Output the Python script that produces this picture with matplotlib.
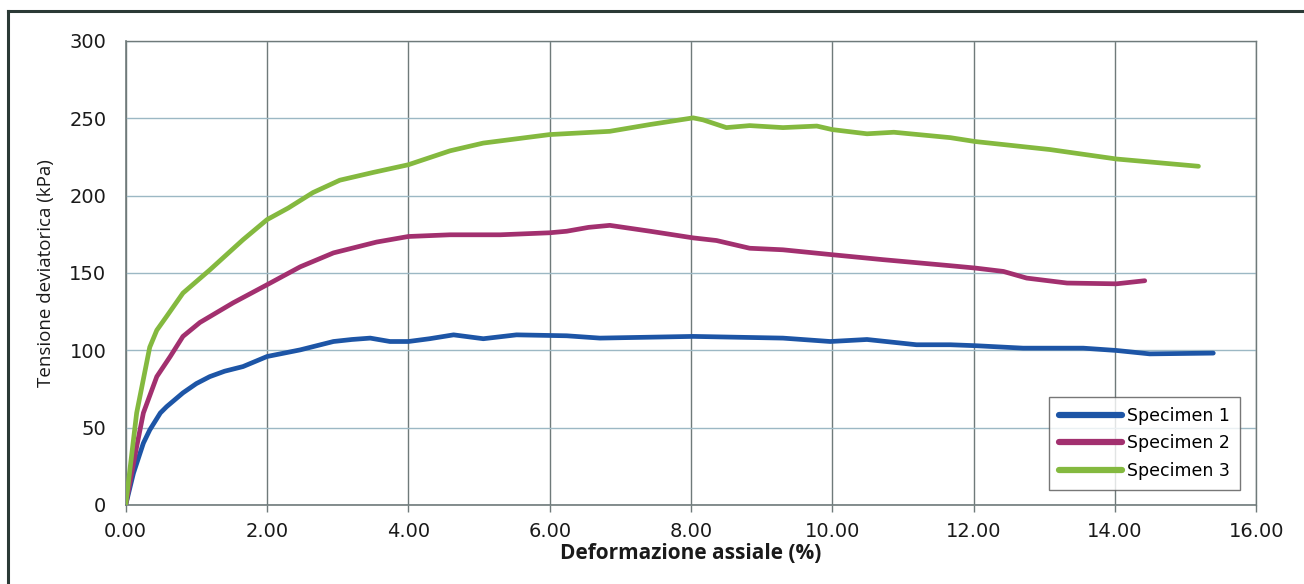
import matplotlib
matplotlib.use("Agg")
import matplotlib.pyplot as plt
from matplotlib.lines import Line2D

# ---- data ----
s1_x = [0.0, 0.11, 0.25, 0.34, 0.49, 0.58, 0.81, 1.0, 1.19, 1.4, 1.66, 2.0, 2.47, 2.94, 3.2, 3.46, 3.74,
        4.0, 4.3, 4.64, 5.06, 5.53, 6.24, 6.71, 8.03, 9.3, 9.97, 10.49, 11.19, 11.67, 12.02, 12.7, 13.55,
        14.02, 14.49, 15.39]
s1_y = [0, 20.6, 40, 48.5, 59.5, 63.6, 72.5, 78.5, 83, 86.5, 89.5, 96, 100.3, 105.7, 107, 107.9, 105.7,
        105.7, 107.5, 110, 107.5, 110, 109.4, 107.9, 109, 107.9, 105.7, 107, 103.6, 103.6, 103, 101.4, 101.4,
        99.9, 97.7, 98.2]

s2_x = [0.0, 0.155, 0.25, 0.44, 0.63, 0.81, 1.05, 1.52, 2.0, 2.47, 2.94, 3.55, 4.0, 4.59, 5.3, 6.0, 6.24,
        6.55, 6.85, 7.42, 8.03, 8.36, 8.83, 9.3, 10.0, 10.72, 11.67, 12.02, 12.42, 12.75, 13.32, 14.02, 14.42]
s2_y = [0, 37.7, 59.5, 83, 96, 109, 118, 130.7, 142.4, 154, 163, 170, 173.6, 174.7, 174.7, 176, 177,
        179.5, 180.8, 177, 172.7, 171, 166, 165, 161.8, 158.6, 154.7, 153.2, 151, 146.7, 143.5, 143, 145]

s3_x = [0.0, 0.155, 0.34, 0.44, 0.58, 0.81, 1.19, 1.66, 2.0, 2.3, 2.65, 3.03, 3.5, 4.0, 4.59, 5.06, 6.0,
        6.85, 7.42, 8.03, 8.17, 8.5, 8.83, 9.3, 9.78, 10.0, 10.49, 10.87, 11.67, 12.02, 13.08, 14.02, 15.18]
s3_y = [0, 59.5, 102, 113, 122, 137, 152, 171.5, 184.5, 192, 202, 210, 215, 220, 229, 234, 239.5,
        241.6, 246, 250.3, 249, 244, 245.3, 244, 245, 242.7, 240, 241, 237.5, 235, 229.8, 223.7, 219]

series_labels = ["Specimen 1", "Specimen 2", "Specimen 3"]
series_colors = ["#1d55a6", "#a2306f", "#84b93f"]
x_ticks = [0, 2, 4, 6, 8, 10, 12, 14, 16]
y_ticks = [0, 50, 100, 150, 200, 250, 300]

fig = plt.figure(figsize=(13.04, 5.84), dpi=100)
ax = fig.add_axes([0.0964, 0.1353, 0.8671, 0.7945])

for xs, ys, lab, col in zip([s1_x, s2_x, s3_x], [s1_y, s2_y, s3_y], series_labels, series_colors):
    ax.plot(xs, ys, color=col, lw=3.4, label=lab, solid_capstyle="round", solid_joinstyle="round", zorder=3)

ax.set_xlim(0, 16)
ax.set_ylim(0, 300)
ax.set_xticks(x_ticks)
ax.set_xticklabels([f"{v:.2f}" for v in x_ticks])
ax.set_yticks(y_ticks)
ax.set_yticklabels([str(v) for v in y_ticks])

ax.grid(axis="x", color="#6f7a7a", lw=1.0, zorder=1)
ax.grid(axis="y", color="#9cb8c4", lw=1.0, zorder=1)
for sp in ["left", "bottom"]:
    ax.spines[sp].set_color("#6f7a7a")
    ax.spines[sp].set_linewidth(1.2)
for sp in ["right", "top"]:
    ax.spines[sp].set_color("#6f7a7a")
    ax.spines[sp].set_linewidth(1.0)

ax.tick_params(axis="x", direction="out", length=5, width=1, color="#6f7a7a",
               labelsize=14, pad=7, labelcolor="#1a1a1a")
ax.tick_params(axis="y", length=0, labelsize=14, pad=14, labelcolor="#1a1a1a")
for t in ax.get_xticklabels() + ax.get_yticklabels():
    t.set_family(["Verdana", "DejaVu Sans"])

ax.set_xlabel("Deformazione assiale (%)", fontsize=15, fontweight="bold",
              family=["Liberation Sans Narrow", "Open Sans", "DejaVu Sans"], labelpad=2, color="#1a1a1a")
ax.set_ylabel("Tensione deviatorica (kPa)", fontsize=13.5,
              family=["Liberation Sans Narrow", "Open Sans", "DejaVu Sans"], labelpad=10, color="#1a1a1a")

leg = ax.legend(loc="lower right", bbox_to_anchor=(0.9935, 0.0126), frameon=True, fancybox=False,
                handlelength=3.6, handletextpad=0.3, borderpad=0.6,
                labelspacing=0.55, prop={"family": "DejaVu Sans", "size": 12.5})
leg.get_frame().set_edgecolor("#555555")
leg.get_frame().set_linewidth(1.0)
for h in leg.get_lines():
    h.set_linewidth(4.5)

# outer frame of the scanned chart area
fy = 1 - 11 / 584
fx = 8 / 1304
fig.add_artist(Line2D([fx, fx], [0, fy], transform=fig.transFigure, color="#2b3a36", lw=2.2))
fig.add_artist(Line2D([fx, 1], [fy, fy], transform=fig.transFigure, color="#2b3a36", lw=2.2))

fig.savefig("out.png", dpi=100)
